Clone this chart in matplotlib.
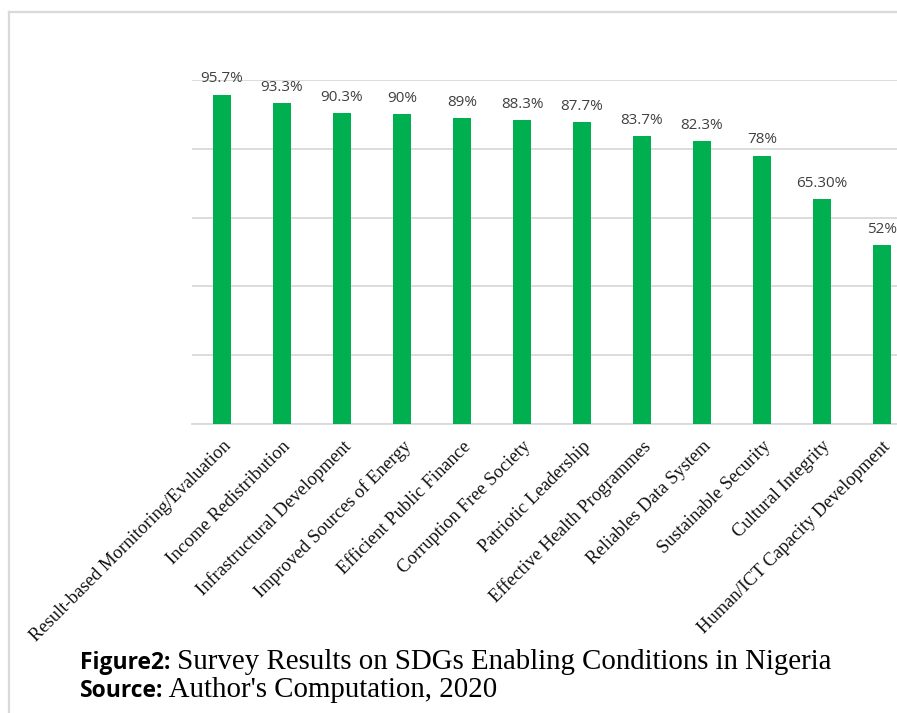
import matplotlib
matplotlib.use("Agg")
import matplotlib.pyplot as plt
from matplotlib.lines import Line2D

categories = [
    "Result-based Mornitoring/Evaluation",
    "Income Redistribution",
    "Infrastructural Development",
    "Improved Sources of Energy",
    "Efficient Public Finance",
    "Corruption Free Society",
    "Patriotic Leadership",
    "Effective Health Programmes",
    "Reliables Data System",
    "Sustainable Security",
    "Cultural Integrity",
    "Human/ICT Capacity Development",
]
values = [95.7, 93.3, 90.3, 90.0, 89.0, 88.3, 87.7, 83.7, 82.3, 78.0, 65.3, 52.0]
value_labels = ["95.7%", "93.3%", "90.3%", "90%", "89%", "88.3%", "87.7%",
                "83.7%", "82.3%", "78%", "65.30%", "52%"]
caption_bold_1 = "Figure2:"
caption_rest_1 = " Survey Results on SDGs Enabling Conditions in Nigeria"
caption_bold_2 = "Source:"
caption_rest_2 = " Author's Computation, 2020"

W, H = 897, 713
fig = plt.figure(figsize=(W / 100, H / 100), dpi=100)

def fx(px):
    return px / W

def fy(py):
    return 1 - py / H

ax = fig.add_axes([fx(192), fy(424), fx(720), fy(80) - fy(424)])
x = list(range(len(categories)))
ax.bar(x, values, width=0.31, color="#00B050", zorder=3)
ax.set_xlim(-0.5, len(categories) - 0.5)
ax.set_ylim(0, 100)
ax.set_yticks([0, 20, 40, 60, 80, 100])
ax.yaxis.grid(True, color="#D9D9D9", linewidth=1.3, zorder=0)
ax.tick_params(axis="y", length=0, labelleft=False)
ax.tick_params(axis="x", length=0, pad=10)
for s in ["top", "right", "left"]:
    ax.spines[s].set_visible(False)
ax.spines["bottom"].set_color("#D9D9D9")
ax.spines["bottom"].set_linewidth(1.3)
ax.set_xticks(x)
ax.set_xticklabels(categories, rotation=45, ha="right", rotation_mode="anchor",
                   family="Liberation Serif", fontsize=13.3, color="#111111")

for xi, v, t in zip(x, values, value_labels):
    ax.annotate(t, (xi, v), xytext=(0, 6), textcoords="offset points",
                ha="center", va="bottom", fontsize=11, color="#404040",
                family="Open Sans")

# frame lines of the original chart box
fig.add_artist(Line2D([fx(9), fx(9)], [fy(12), 0], color="#D9D9D9", lw=1.6))
fig.add_artist(Line2D([fx(9), 1], [fy(12), fy(12)], color="#D9D9D9", lw=1.6))

# caption
fig.canvas.draw()
r = fig.canvas.get_renderer()

def caption(y, bold, rest):
    t1 = fig.text(fx(80), fy(y), bold, family="Open Sans", fontweight="bold",
                  fontsize=16.5, color="#000000", va="baseline")
    bb = t1.get_window_extent(r)
    fig.text(bb.x1 / W, fy(y), rest, family="Liberation Serif",
             fontsize=20.8, color="#000000", va="baseline")

caption(669, caption_bold_1, caption_rest_1)
caption(697, caption_bold_2, caption_rest_2)

fig.savefig("out.png", dpi=100)
